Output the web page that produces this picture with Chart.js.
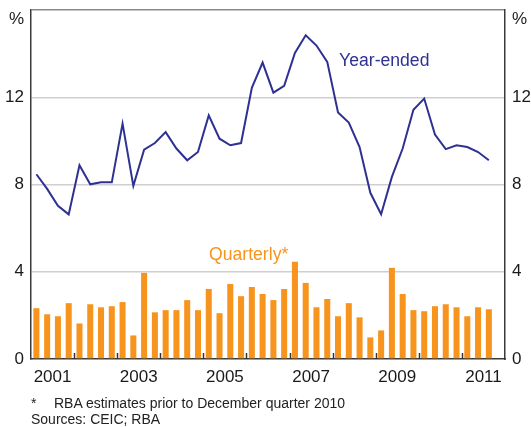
<!DOCTYPE html>
<html><head><meta charset="utf-8">
<script src="https://cdn.jsdelivr.net/npm/chart.js@4/dist/chart.umd.min.js"></script>
<style>
html,body{margin:0;padding:0;background:#fff;}
#wrap{position:relative;width:531px;height:427px;overflow:hidden;}
canvas{position:absolute;left:0;top:0;}
.note{position:absolute;font-family:"Liberation Sans",Arial,sans-serif;font-size:14px;color:#222;line-height:16px;white-space:nowrap;}
</style></head><body>
<div id="wrap">
<canvas id="c" width="531" height="427"></canvas>
<div class="note" style="left:31px;top:395px;">*</div>
<div class="note" style="left:54px;top:395px;">RBA estimates prior to December quarter 2010</div>
<div class="note" style="left:31px;top:411px;">Sources: CEIC; RBA</div>
</div>
<script>
// Quarters, March 2001 to September 2011
const quarters = [
 'Mar-2001','Jun-2001','Sep-2001','Dec-2001',
 'Mar-2002','Jun-2002','Sep-2002','Dec-2002',
 'Mar-2003','Jun-2003','Sep-2003','Dec-2003',
 'Mar-2004','Jun-2004','Sep-2004','Dec-2004',
 'Mar-2005','Jun-2005','Sep-2005','Dec-2005',
 'Mar-2006','Jun-2006','Sep-2006','Dec-2006',
 'Mar-2007','Jun-2007','Sep-2007','Dec-2007',
 'Mar-2008','Jun-2008','Sep-2008','Dec-2008',
 'Mar-2009','Jun-2009','Sep-2009','Dec-2009',
 'Mar-2010','Jun-2010','Sep-2010','Dec-2010',
 'Mar-2011','Jun-2011','Sep-2011'
];
// Quarterly change, %
const quarterly = [
 2.33, 2.05, 1.96, 2.56,
 1.63, 2.51, 2.37, 2.42,
 2.61, 1.08, 3.95, 2.14,
 2.24, 2.24, 2.70, 2.24,
 3.21, 2.10, 3.44, 2.88,
 3.30, 2.98, 2.70, 3.21,
 4.46, 3.49, 2.37, 2.75,
 1.96, 2.56, 1.91, 0.99,
 1.31, 4.18, 2.98, 2.24,
 2.19, 2.42, 2.51, 2.37,
 1.96, 2.37, 2.28
];
// Year-ended change, %
const yearEnded = [
 8.47, 7.80, 7.02, 6.63,
 8.88, 8.01, 8.10, 8.10,
 10.79, 7.94, 9.60, 9.90,
 10.40, 9.65, 9.11, 9.49,
 11.17, 10.10, 9.80, 9.90,
 12.43, 13.59, 12.21, 12.52,
 14.03, 14.84, 14.37, 13.62,
 11.30, 10.84, 9.72, 7.62,
 6.64, 8.35, 9.65, 11.43,
 11.94, 10.29, 9.62, 9.80,
 9.72, 9.49, 9.11
];
const yearLabels = ['2001','2003','2005','2007','2009','2011'];
const firstYear = 2001;
const lastYear = 2011;
const yTicks = [0, 4, 8, 12, 16];

const FONT = '"Liberation Sans", Arial, sans-serif';
Chart.defaults.font.family = FONT;
Chart.defaults.color = '#1a1a1a';

const quarterPos = (i) => i; // category index on the linear x scale
const barData = quarterly.map((v, i) => ({x: quarterPos(i), y: v}));
const lineData = yearEnded.map((v, i) => ({x: quarterPos(i), y: v}));
const xMin = -0.5;
const xMax = (lastYear - firstYear + 1) * 4 - 0.5;

const extras = {
  id: 'extras',
  afterDraw(chart) {
    const ctx = chart.ctx;
    const xs = chart.scales.x, ys = chart.scales.y, y2 = chart.scales.y2;
    const area = chart.chartArea;
    ctx.save();
    // inward year-boundary tick marks
    ctx.strokeStyle = '#333';
    ctx.lineWidth = 1.5;
    for (let yr = firstYear + 1; yr <= lastYear; yr++) {
      const px = Math.round(xs.getPixelForValue((yr - firstYear) * 4 - 0.5)) + 0.5;
      ctx.beginPath();
      ctx.moveTo(px, area.bottom);
      ctx.lineTo(px, area.bottom - 6);
      ctx.stroke();
    }
    // % unit labels
    ctx.font = '17px ' + FONT;
    ctx.fillStyle = '#1a1a1a';
    ctx.textBaseline = 'middle';
    ctx.textAlign = 'right';
    ctx.fillText('%', ys.right - 7, area.top + 9);
    ctx.textAlign = 'left';
    ctx.fillText('%', y2.left + 7, area.top + 9);
    // series labels
    ctx.font = '17.6px ' + FONT;
    ctx.textBaseline = 'alphabetic';
    ctx.fillStyle = '#2E3192';
    ctx.fillText('Year-ended', xs.getPixelForValue(28.1), ys.getPixelForValue(13.43));
    ctx.fillStyle = '#F7941D';
    ctx.fillText('Quarterly*', xs.getPixelForValue(16.03), ys.getPixelForValue(4.54));
    ctx.restore();
  }
};

const fixPad = (w) => (s) => { s.width = w; s.paddingTop = 10; s.paddingBottom = 0; };

const yCommon = {
  min: 0, max: 16,
  afterBuildTicks: (s) => { s.ticks = yTicks.map(v => ({value: v})); },
  ticks: {
    font: {size: 17, lineHeight: 1},
    color: '#1a1a1a',
    padding: 7,
    callback: (v) => (v === 16 ? '' : String(v))
  },
  border: {display: true, color: '#3a3a3a', width: 1.5}
};

new Chart(document.getElementById('c'), {
  type: 'bar',
  data: {
    datasets: [
      {
        type: 'line', label: 'Year-ended', data: lineData,
        borderColor: '#2E3192', borderWidth: 2, pointRadius: 0, tension: 0,
        fill: false, order: 0, yAxisID: 'y'
      },
      {
        type: 'bar', label: 'Quarterly*', data: barData,
        backgroundColor: '#F7941D', borderWidth: 0,
        categoryPercentage: 1, barPercentage: 0.56, order: 1, yAxisID: 'y'
      }
    ]
  },
  options: {
    responsive: false,
    animation: false,
    devicePixelRatio: 1,
    layout: {padding: {top: 10, left: 0, right: 0, bottom: 0}},
    plugins: {legend: {display: false}, tooltip: {enabled: false}},
    scales: {
      x: {
        type: 'linear', min: xMin, max: xMax, offset: false,
        afterBuildTicks: (s) => {
          s.ticks = yearLabels.map(l => ({value: (parseInt(l, 10) - firstYear) * 4 + 1.5}));
        },
        afterFit: (s) => { s.height = 68; },
        grid: {display: false, offset: false},
        border: {display: true, color: '#3a3a3a', width: 1.5},
        ticks: {
          font: {size: 17, lineHeight: 1.2},
          color: '#1a1a1a',
          padding: 0,
          maxRotation: 0, autoSkip: false,
          callback: (v, i) => yearLabels[i]
        }
      },
      y: Object.assign({}, yCommon, {
        position: 'left',
        afterFit: fixPad(31),
        grid: {
          drawTicks: false,
          color: (c) => c.tick && c.tick.value === 16 ? '#8a8a8a' : (c.tick && c.tick.value === 0 ? 'rgba(0,0,0,0)' : '#cfcfcf'),
          lineWidth: 1.5
        }
      }),
      y2: Object.assign({}, yCommon, {
        position: 'right',
        afterFit: fixPad(26),
        grid: {drawOnChartArea: false, drawTicks: false}
      })
    }
  },
  plugins: [extras]
});
</script>
</body></html>
